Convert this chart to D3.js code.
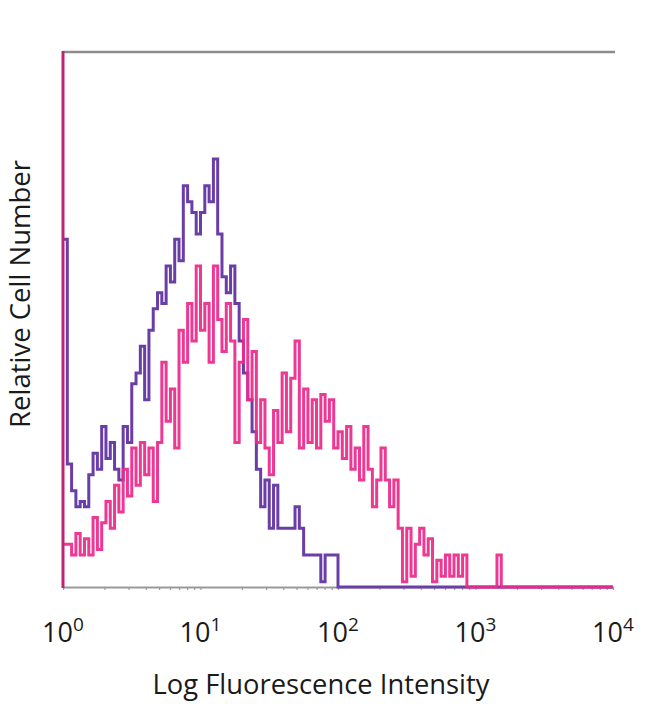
<!DOCTYPE html>
<html>
<head>
<meta charset="utf-8">
<script src="https://cdn.jsdelivr.net/npm/d3@7"></script>
<style>
  html, body { margin: 0; padding: 0; background: #fff; }
  svg { display: block; }
</style>
</head>
<body>
<svg id="chart" width="650" height="704"></svg>
<script>
// ---- Data ----
// Histogram counts per channel, 128 channels over 4 log decades (10^0 .. 10^4)
const decades = [0, 1, 2, 3, 4];
const tickBase = "10";
const xTitle = "Log Fluorescence Intensity";
const yTitle = "Relative Cell Number";

const purpleCounts = [
  65, 23, 18, 15, 16, 15, 21, 25, 22, 30, 24, 27, 22, 20, 30, 27,
  38, 40, 45, 35, 48, 52, 55, 53, 60, 57, 65, 61, 75, 72, 70, 66,
  70, 75, 72, 80, 66, 58, 55, 60, 53, 46, 40, 35, 29, 22, 15, 20,
  11, 19, 11, 11, 11, 11, 15, 11, 6, 6, 6, 6, 1, 6, 6, 6,
  0, 0, 0, 0, 0, 0, 0, 0, 0, 0, 0, 0, 0, 0, 0, 0,
  0, 0, 0, 0, 0, 0, 0, 0, 0, 0, 0, 0, 0, 0, 0, 0,
  0, 0, 0, 0, 0, 0, 0, 0, 0, 0, 0, 0, 0, 0, 0, 0,
  0, 0, 0, 0, 0, 0, 0, 0, 0, 0, 0, 0, 0, 0, 0, 0
];

const pinkCounts = [
  8, 8, 6, 10, 6, 9, 6, 13, 7, 12, 16, 11, 19, 14, 22, 17,
  26, 19, 27, 21, 26, 16, 27, 42, 31, 37, 26, 48, 42, 53, 46, 60,
  48, 53, 42, 60, 50, 44, 53, 46, 27, 42, 50, 35, 44, 27, 35, 26,
  21, 33, 27, 40, 29, 39, 46, 26, 37, 27, 35, 26, 36, 31, 35, 26,
  29, 24, 30, 22, 26, 20, 30, 22, 15, 20, 26, 20, 15, 20, 11, 1,
  11, 2, 8, 11, 6, 9, 1, 5, 2, 6, 2, 6, 2, 6, 0, 0,
  0, 0, 0, 0, 0, 6, 0, 0, 0, 0, 0, 0, 0, 0, 0, 0,
  0, 0, 0, 0, 0, 0, 0, 0, 0, 0, 0, 0, 0, 0, 0, 0
];

// ---- Layout ----
const padL = 63, padR = 613, padT = 52, padB = 587;
const nCh = purpleCounts.length;
const chPerDecade = nCh / 4;

const svg = d3.select("#chart");
svg.append("rect").attr("width", 650).attr("height", 704).attr("fill", "#fff");

const x = d3.scaleLog().domain([1, 1e4]).range([padL, padR]);
const y = d3.scaleLinear().domain([0, 100]).range([padB, padT]);

// bottom axis: gray line with small log ticks
const xAxis = d3.axisBottom(x)
  .tickValues(d3.range(0, 4).flatMap(d => d3.range(1, 10).map(m => m * Math.pow(10, d))).concat([1e4]))
  .tickSize(3)
  .tickSizeOuter(0)
  .tickFormat("");
const gx = svg.append("g").attr("transform", `translate(0,${padB})`).call(xAxis);
gx.select(".domain").attr("stroke", "#9a9a9a").attr("stroke-width", 2);
gx.selectAll(".tick line").attr("stroke", "#9a9a9a").attr("stroke-width", 1.2);

// top border line
svg.append("line")
  .attr("x1", padL).attr("x2", padR + 2)
  .attr("y1", padT).attr("y2", padT)
  .attr("stroke", "#8c8c8c").attr("stroke-width", 2.5);

// Histogram step lines
function toPoints(counts) {
  const pts = counts.map((c, i) => [Math.pow(10, i / chPerDecade), c]);
  pts.push([1e4, counts[counts.length - 1]]);
  return pts;
}
const line = d3.line()
  .x(d => x(d[0]))
  .y(d => y(d[1]))
  .curve(d3.curveStepAfter);

svg.append("path")
  .datum(toPoints(purpleCounts))
  .attr("d", line)
  .attr("fill", "none")
  .attr("stroke", "#6a3ea6")
  .attr("stroke-width", 3);

svg.append("path")
  .datum(toPoints(pinkCounts))
  .attr("d", line)
  .attr("fill", "none")
  .attr("stroke", "#ec2a8c")
  .attr("stroke-width", 3)
  .attr("stroke-opacity", 0.93);

// left spine (magenta)
svg.append("line")
  .attr("x1", padL).attr("x2", padL)
  .attr("y1", padT - 1).attr("y2", padB + 1)
  .attr("stroke", "#bf2570").attr("stroke-width", 3);

// Tick labels 10^n
const labelFont = "'Open Sans', 'DejaVu Sans', sans-serif";
decades.forEach(d => {
  const t = svg.append("text")
    .attr("x", x(Math.pow(10, d)))
    .attr("y", 642)
    .attr("text-anchor", "middle")
    .attr("font-family", labelFont)
    .attr("fill", "#1a1a1a");
  t.append("tspan").attr("font-size", 27).text(tickBase);
  t.append("tspan").attr("font-size", 19).attr("dy", -11).text(String(d));
});

// Axis titles
const xt = svg.append("text")
  .attr("x", 321).attr("y", 694)
  .attr("text-anchor", "middle")
  .attr("font-family", labelFont)
  .attr("font-size", 22)
  .attr("fill", "#1a1a1a")
  .text(xTitle);
const xw = xt.node().getComputedTextLength();
xt.attr("font-size", 22 * 337 / xw);

const yt = svg.append("text")
  .attr("transform", "translate(30,294) rotate(-90)")
  .attr("text-anchor", "middle")
  .attr("font-family", labelFont)
  .attr("font-size", 20)
  .attr("fill", "#1a1a1a")
  .text(yTitle);
const yw = yt.node().getComputedTextLength();
yt.attr("font-size", 20 * 268 / yw);
</script>
</body>
</html>
